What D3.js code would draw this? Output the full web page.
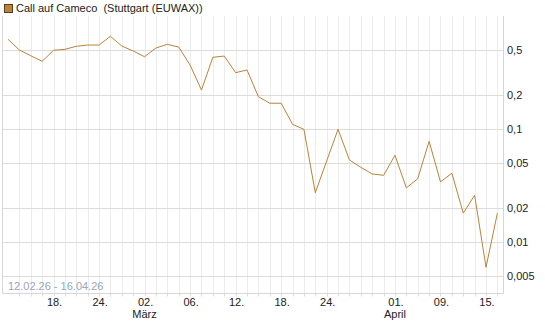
<!DOCTYPE html>
<html><head><meta charset="utf-8">
<script src="https://cdn.jsdelivr.net/npm/d3@7"></script>
<style>
html,body{margin:0;padding:0;background:#fff;}
svg{display:block;font-family:"Liberation Sans",Arial,sans-serif;}
</style></head>
<body><svg id="c" width="545" height="327"></svg>
<script>
const seriesName = "Call auf Cameco  (Stuttgart (EUWAX))";
const dateRange = "12.02.26 - 16.04.26";
const dates = ["2026-02-12","2026-02-13","2026-02-16","2026-02-17","2026-02-18","2026-02-19","2026-02-20","2026-02-23","2026-02-24","2026-02-25","2026-02-26","2026-02-27",
"2026-03-02","2026-03-03","2026-03-04","2026-03-05","2026-03-06","2026-03-09","2026-03-10","2026-03-11","2026-03-12","2026-03-13","2026-03-16","2026-03-17","2026-03-18","2026-03-19","2026-03-20",
"2026-03-23","2026-03-24","2026-03-25","2026-03-26","2026-03-27","2026-03-30","2026-03-31","2026-04-01","2026-04-02","2026-04-07","2026-04-08","2026-04-09","2026-04-10","2026-04-13","2026-04-14","2026-04-15","2026-04-16"];
const values = [0.622,0.500,0.445,0.397,0.497,0.507,0.539,0.553,0.553,0.661,0.542,0.490,
0.436,0.521,0.561,0.531,0.368,0.221,0.431,0.442,0.315,0.333,0.193,0.169,0.169,0.110,0.0993,
0.0273,0.0521,0.0993,0.0532,0.0458,0.0400,0.0389,0.0585,0.0301,0.0363,0.0778,0.0340,0.0406,0.0180,0.0259,0.00597,0.0180];
const yTicks = [0.5,0.2,0.1,0.05,0.02,0.01,0.005];
const yTickLabels = ["0,5","0,2","0,1","0,05","0,02","0,01","0,005"];
const xTickDates = ["2026-02-18","2026-02-24","2026-03-02","2026-03-06","2026-03-12","2026-03-18","2026-03-24","2026-04-01","2026-04-09","2026-04-15"];
const xTickLabels = ["18.","24.","02.","06.","12.","18.","24.","01.","09.","15."];
const monthDates = ["2026-03-02","2026-04-01"];
const monthLabels = ["März","April"];

const svg = d3.select("#c");
const L = 2.5, R = 503.5, T = 16, B = 293.5;
const x = d3.scalePoint().domain(dates).range([8, 497.4]);
const y = d3.scaleLog().domain([0.5, 0.005]).range([50, 276]);

// vertical grid
svg.append("g").selectAll("line").data(dates.slice(1)).join("line")
  .attr("x1", d => Math.round(x(d)) + 0.5).attr("x2", d => Math.round(x(d)) + 0.5)
  .attr("y1", T).attr("y2", B)
  .attr("stroke", "#ececec").attr("stroke-width", 1);
// small ticks below
svg.append("g").selectAll("line").data(dates.slice(1)).join("line")
  .attr("x1", d => Math.round(x(d)) + 0.5).attr("x2", d => Math.round(x(d)) + 0.5)
  .attr("y1", B).attr("y2", B + 3)
  .attr("stroke", "#dddddd").attr("stroke-width", 1);
// horizontal grid
svg.append("g").selectAll("line").data(yTicks).join("line")
  .attr("x1", L).attr("x2", R)
  .attr("y1", d => Math.round(y(d)) + 0.5).attr("y2", d => Math.round(y(d)) + 0.5)
  .attr("stroke", "#dcdcdc").attr("stroke-width", 1);
// borders
svg.append("line").attr("x1", L).attr("x2", L).attr("y1", T).attr("y2", B).attr("stroke", "#d6d6d6");
svg.append("line").attr("x1", R).attr("x2", R).attr("y1", T).attr("y2", B).attr("stroke", "#d6d6d6");
svg.append("line").attr("x1", L).attr("x2", R).attr("y1", B).attr("y2", B).attr("stroke", "#d6d6d6");

// y labels
svg.append("g").selectAll("text").data(yTicks).join("text")
  .attr("x", 507).attr("y", d => y(d) + 4)
  .attr("font-size", 11).attr("fill", "#222")
  .text((d, i) => yTickLabels[i]);

// x labels
svg.append("g").selectAll("text").data(xTickDates).join("text")
  .attr("x", d => x(d) + 1).attr("y", 306)
  .attr("text-anchor", "middle").attr("font-size", 11).attr("fill", "#222")
  .text((d, i) => xTickLabels[i]);
svg.append("g").selectAll("text").data(monthDates).join("text")
  .attr("x", d => x(d)).attr("y", 318)
  .attr("text-anchor", "middle").attr("font-size", 11).attr("fill", "#222")
  .text((d, i) => monthLabels[i]);

// date range
svg.append("text").attr("x", 8).attr("y", 290).attr("font-size", 11)
  .attr("fill", "#9aa6b8").text(dateRange);

// line
const line = d3.line().x((d, i) => x(dates[i])).y(d => y(d));
svg.append("path").datum(values).attr("d", line)
  .attr("fill", "none").attr("stroke", "#b8843a").attr("stroke-width", 1);

// legend
svg.append("rect").attr("x", 4.5).attr("y", 4.5).attr("width", 8).attr("height", 8)
  .attr("fill", "#b8843a").attr("stroke", "#5a4020").attr("stroke-width", 1);
svg.append("text").attr("x", 16).attr("y", 12).attr("font-size", 11).attr("fill", "#222")
  .style("white-space", "pre").text(seriesName);
</script></body></html>
